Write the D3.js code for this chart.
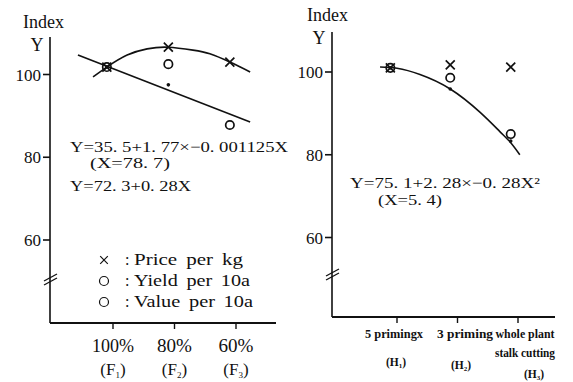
<!DOCTYPE html>
<html>
<head>
<meta charset="utf-8">
<script src="https://cdn.jsdelivr.net/npm/d3@7"></script>
<style>
  body { margin: 0; background: #fff; }
  svg { display: block; }
  text { font-family: "Liberation Serif", "DejaVu Serif", serif; fill: #111; }
</style>
</head>
<body>
<svg id="chart" width="573" height="382"></svg>
<script>
/* ---- data: left panel (fertiliser level, %) ---- */
const fLevels = ["100%", "80%", "60%"];
const fTicks = [100, 80, 60];
const fSubs = ["1", "2", "3"];
const fPointX = [102, 82, 62];
const fPrice = [101.8, 106.6, 103.0];
const fYield = [101.8, 102.5, 87.8];
const fValue = [101.8, 97.5, null];
const fCurveX = [106.5, 102, 95.4, 88.9, 82.1, 74, 68.5, 62, 55.4];
const fCurveY = [99.4, 101.8, 104.7, 106.2, 106.6, 105.9, 105.0, 103.0, 100.6];
const fLineX = [111.4, 55.4];
const fLineY = [104.7, 88.5];

/* ---- data: right panel (harvest method) ---- */
const hLabels = [["5 primingx"], ["3 priming"], ["whole plant", "stalk cutting"]];
const hSubs = ["1", "2", "3"];
const hTicks = [1, 2, 3];
const hPointX = [0.89, 1.88, 2.88];
const hPrice = [101.0, 101.7, 101.2];
const hYield = [101.0, 98.6, 85.0];
const hValue = [101.0, 95.9, 83.3];
const hCurveX = [0.72, 1.0, 1.38, 1.88, 2.37, 2.70, 2.88, 3.03];
const hCurveY = [101.2, 100.9, 99.4, 95.9, 90.3, 85.6, 82.9, 80.0];

const yTicks = [100, 80, 60];

const svg = d3.select("#chart");
svg.append("rect").attr("width", 573).attr("height", 382).attr("fill", "#fff");

function cross(g, cx, cy, s, w) {
    g.append("path")
        .attr("d", `M${cx - s},${cy - s}L${cx + s},${cy + s}M${cx - s},${cy + s}L${cx + s},${cy - s}`)
        .attr("stroke", "#111").attr("stroke-width", w);
}

function panel(o) {
    const g = svg.append("g");
    const x = d3.scaleLinear().domain(o.xDomain).range(o.xRange);
    const y = d3.scaleLinear().domain([60, 100]).range(o.yRange);

    /* axes */
    g.append("line")
        .attr("x1", o.axisX).attr("x2", o.axisX)
        .attr("y1", o.top).attr("y2", o.bottom)
        .attr("stroke", "#111").attr("stroke-width", 1.6);
    g.append("line")
        .attr("x1", o.axisX).attr("x2", o.right)
        .attr("y1", o.bottom).attr("y2", o.bottom)
        .attr("stroke", "#111").attr("stroke-width", 1.8);

    yTicks.forEach(t => {
        g.append("line")
            .attr("x1", o.axisX - 7).attr("x2", o.axisX)
            .attr("y1", y(t)).attr("y2", y(t))
            .attr("stroke", "#111").attr("stroke-width", 1.6);
        g.append("text")
            .attr("x", o.axisX - 9).attr("y", y(t) + 6)
            .attr("text-anchor", "end")
            .attr("font-size", 17)
            .text(t);
    });
    o.xTicks.forEach(t => {
        g.append("line")
            .attr("x1", x(t)).attr("x2", x(t))
            .attr("y1", o.bottom).attr("y2", o.bottom + 6)
            .attr("stroke", "#111").attr("stroke-width", 1.4);
    });

    /* axis break */
    [0, 4].forEach(d => {
        g.append("line")
            .attr("x1", o.axisX - 6).attr("y1", o.breakY + 4 - d)
            .attr("x2", o.axisX + 7).attr("y2", o.breakY - 3 - d)
            .attr("stroke", "#111").attr("stroke-width", 1.3);
    });

    /* axis title */
    g.append("text").attr("x", o.titleX).attr("y", o.titleY)
        .attr("font-size", 18).text("Index");
    g.append("text").attr("x", o.axisX - 13).attr("y", o.titleY + 23)
        .attr("font-size", 18).attr("text-anchor", "middle").text("Y");

    /* fitted curves */
    const line = d3.line().x(d => x(d[0])).y(d => y(d[1])).curve(d3.curveNatural);
    o.curves.forEach(c => {
        g.append("path")
            .attr("d", line(d3.zip(c[0], c[1])))
            .attr("fill", "none").attr("stroke", "#111").attr("stroke-width", 1.6);
    });

    /* points */
    o.yieldV.forEach((v, i) => {
        if (v == null) return;
        g.append("circle").attr("cx", x(o.pointX[i])).attr("cy", y(v)).attr("r", 4.2)
            .attr("fill", "none").attr("stroke", "#111").attr("stroke-width", 1.7);
    });
    o.valueV.forEach((v, i) => {
        if (v == null) return;
        g.append("circle").attr("cx", x(o.pointX[i])).attr("cy", y(v)).attr("r", 1.8)
            .attr("fill", "#111");
    });
    o.priceV.forEach((v, i) => cross(g, x(o.pointX[i]), y(v), 4.5, 1.7));

    return { g, x, y };
}

/* ---- left panel ---- */
const L = panel({
    xDomain: [100, 60], xRange: [113, 236], yRange: [240, 74.5],
    axisX: 50, top: 37, bottom: 323, right: 276, breakY: 281,
    titleX: 23, titleY: 28,
    xTicks: fTicks, pointX: fPointX,
    priceV: fPrice, yieldV: fYield, valueV: fValue,
    curves: [[fCurveX, fCurveY], [fLineX, fLineY]]
});

fLevels.forEach((lab, i) => {
    const cx = L.x(fTicks[i]);
    L.g.append("text").attr("x", cx).attr("y", 352)
        .attr("text-anchor", "middle").attr("font-size", 18)
        .attr("textLength", i === 0 ? 42 : 35).attr("lengthAdjust", "spacingAndGlyphs")
        .text(lab);
    const t = L.g.append("text").attr("x", cx).attr("y", 375)
        .attr("text-anchor", "middle").attr("font-size", 17);
    t.append("tspan").text("(F");
    t.append("tspan").attr("font-size", 9).attr("dy", 3).text(fSubs[i]);
    t.append("tspan").attr("dy", -3).text(")");
});

const eqL = [
    ["Y=35. 5+1. 77×−0. 001125X", 70, 152, 218],
    ["(X=78. 7)", 90, 168, 80],
    ["Y=72. 3+0. 28X", 70, 191, 121]
];
eqL.forEach(e => {
    L.g.append("text").attr("x", e[1]).attr("y", e[2]).attr("font-size", 15)
        .attr("textLength", e[3]).attr("lengthAdjust", "spacingAndGlyphs").text(e[0]);
});

const legend = [["cross", "Price per kg", 109], ["circle", "Yield per 10a", 116], ["circle", "Value per 10a", 119]];
legend.forEach((d, i) => {
    const yy = 265 + i * 21;
    if (d[0] === "cross") {
        cross(L.g, 104, yy - 5, 3.8, 1.2);
    } else {
        L.g.append("circle").attr("cx", 104).attr("cy", yy - 5).attr("r", 4.5)
            .attr("fill", "none").attr("stroke", "#111").attr("stroke-width", 1.2);
    }
    L.g.append("text").attr("x", 125).attr("y", yy).attr("font-size", 16).text(":");
    L.g.append("text").attr("x", 134).attr("y", yy).attr("font-size", 17)
        .attr("word-spacing", 3)
        .attr("textLength", d[2]).attr("lengthAdjust", "spacingAndGlyphs").text(d[1]);
});

/* ---- right panel ---- */
const R = panel({
    xDomain: [1, 3], xRange: [397, 518], yRange: [237.5, 72],
    axisX: 332, top: 32, bottom: 317, right: 555, breakY: 276,
    titleX: 307, titleY: 21,
    xTicks: hTicks, pointX: hPointX,
    priceV: hPrice, yieldV: hYield, valueV: hValue,
    curves: [[hCurveX, hCurveY]]
});

const hCenters = [394, 465, 525];
const hWidths = [[58], [56], [59, 60]];
const hSubY = [366, 369, 378];
const hSubX = [396, 461, 534];
hLabels.forEach((lines, i) => {
    lines.forEach((s, j) => {
        R.g.append("text").attr("x", hCenters[i]).attr("y", 338 + j * 19)
            .attr("text-anchor", "middle").attr("font-size", 11.5).attr("font-weight", "bold")
            .attr("textLength", hWidths[i][j]).attr("lengthAdjust", "spacingAndGlyphs")
            .text(s);
    });
    const t = R.g.append("text").attr("x", hSubX[i]).attr("y", hSubY[i])
        .attr("text-anchor", "middle").attr("font-size", 11.5).attr("font-weight", "bold");
    t.append("tspan").text("(H");
    t.append("tspan").attr("font-size", 7).attr("dy", 2).text(hSubs[i]);
    t.append("tspan").attr("dy", -2).text(")");
});

R.g.append("text").attr("x", 350).attr("y", 188).attr("font-size", 15)
    .attr("textLength", 190).attr("lengthAdjust", "spacingAndGlyphs")
    .text("Y=75. 1+2. 28×−0. 28X²");
R.g.append("text").attr("x", 378).attr("y", 205).attr("font-size", 15)
    .attr("textLength", 64).attr("lengthAdjust", "spacingAndGlyphs")
    .text("(X=5. 4)");
</script>
</body>
</html>
